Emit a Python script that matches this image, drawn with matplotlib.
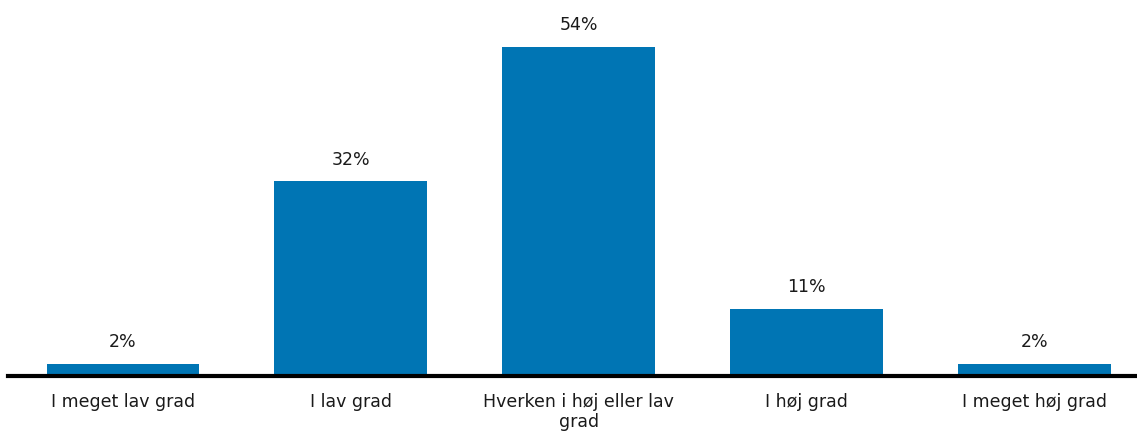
import matplotlib
matplotlib.use("Agg")
import matplotlib.pyplot as plt
import numpy as np

# Svarfordeling
kategorier = ["I meget lav grad", "I lav grad", "Hverken i høj eller lav\ngrad",
              "I høj grad", "I meget høj grad"]
andel = [2, 32, 54, 11, 2]

fig = plt.figure(figsize=(11.37, 4.32), dpi=100)
ax = fig.add_axes([8 / 1137, 56 / 432, 1 - 8 / 1137, 365.6 / 432])

x = np.arange(len(kategorier))
bars = ax.bar(x, andel, width=0.67, color="#0075B4", zorder=2)

for b, v in zip(bars, andel):
    ax.annotate(f"{v}%", (b.get_x() + b.get_width() / 2, v),
                xytext=(0, 9), textcoords="offset points",
                ha="center", va="bottom", fontsize=12.5, color="#1a1a1a")

ax.set_xlim(-0.504, 4.45)
ax.set_ylim(0, 60)
ax.set_xticks(x)
ax.set_xticklabels(kategorier, fontsize=12.5, color="#1a1a1a", linespacing=1.2)
ax.tick_params(axis="x", length=0, pad=12)
ax.set_yticks([])
for s in ["top", "right", "left"]:
    ax.spines[s].set_visible(False)
ax.spines["bottom"].set_linewidth(3)
ax.spines["bottom"].set_zorder(3)

fig.savefig("out.png", dpi=100)
